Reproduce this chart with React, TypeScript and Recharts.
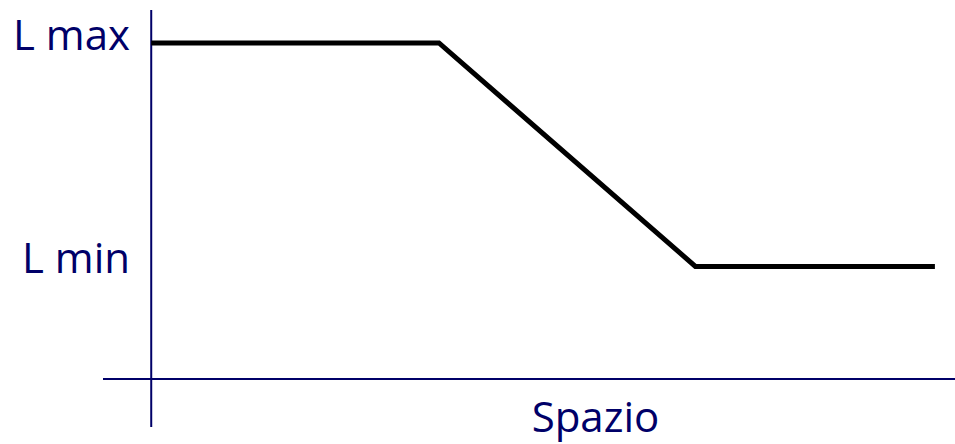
import { LineChart, Line, XAxis, YAxis, ReferenceLine } from "recharts";

// posizione lungo lo spazio (0 = asse verticale) e livello L (0 = asse orizzontale)
const spazio = [0, 35.8, 67.7, 97.5];
const livello = [1, 1, 0.335, 0.335];
const yTicks = [0.335, 1];
const yTickLabels = ["L min", "L max"];
const xAxisTitle = "Spazio";

const data = spazio.map((s, i) => ({ s, l: livello[i] }));

const NAVY = "#000068";
const FONT = "'Open Sans', sans-serif";

const YTick = (props: any) => {
  const idx = yTicks.indexOf(props.payload.value);
  return (
    <text
      x={130}
      y={props.y + 7}
      textAnchor="end"
      fill={NAVY}
      fontSize={42}
      fontFamily={FONT}
    >
      {yTickLabels[idx]}
    </text>
  );
};

const SpazioLabel = (props: any) => {
  const vb = props.viewBox;
  return (
    <text
      x={vb.x + vb.width * 0.578}
      y={vb.y + 53}
      textAnchor="middle"
      fill={NAVY}
      fontSize={42}
      fontFamily={FONT}
    >
      {xAxisTitle}
    </text>
  );
};

export default function App() {
  return (
    <div style={{ position: "fixed", left: 0, top: 0, background: "#fff" }}>
      <LineChart
        width={955}
        height={444}
        data={data}
        margin={{ top: 10, right: 0, bottom: 17, left: 0 }}
      >
        <XAxis
          dataKey="s"
          type="number"
          domain={[-6, 100]}
          allowDataOverflow
          hide
        />
        <YAxis
          type="number"
          domain={[-0.143, 1.098]}
          allowDataOverflow
          width={103}
          ticks={yTicks}
          axisLine={false}
          tickLine={false}
          tick={<YTick />}
          interval={0}
        />
        <ReferenceLine x={0} stroke={NAVY} strokeWidth={2} />
        <ReferenceLine
          y={0}
          stroke={NAVY}
          strokeWidth={2}
          label={<SpazioLabel />}
        />
        <Line
          dataKey="l"
          type="linear"
          stroke="#000"
          strokeWidth={5}
          dot={false}
          activeDot={false}
          isAnimationActive={false}
        />
      </LineChart>
    </div>
  );
}
